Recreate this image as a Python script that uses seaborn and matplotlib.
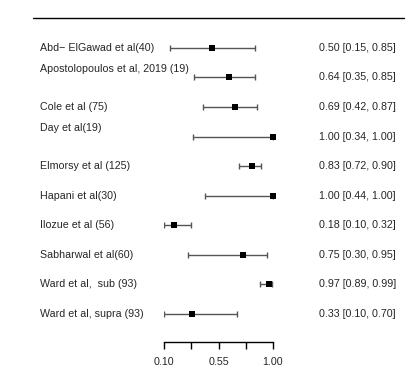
import numpy as np
import pandas as pd
import seaborn as sns
import matplotlib.pyplot as plt

# study labels and sensitivity estimates with 95% CI
studies = ["Abd\u2212 ElGawad et al(40)", "Apostolopoulos et al, 2019 (19)",
           "Cole et al (75)", "Day et al(19)", "Elmorsy et al (125)",
           "Hapani et al(30)", "Ilozue et al (56)", "Sabharwal et al(60)",
           "Ward et al,  sub (93)", "Ward et al, supra (93)"]
est = [0.50, 0.64, 0.69, 1.00, 0.83, 1.00, 0.18, 0.75, 0.97, 0.33]
lower = [0.15, 0.35, 0.42, 0.34, 0.72, 0.44, 0.10, 0.30, 0.89, 0.10]
upper = [0.85, 0.85, 0.87, 1.00, 0.90, 1.00, 0.32, 0.95, 0.99, 0.70]
xticks = [0.10, 0.325, 0.55, 0.775, 1.00]
xticklabels = ["0.10", "", "0.55", "", "1.00"]

df = pd.DataFrame({"study": studies, "est": est, "lo": lower, "hi": upper})
df["row"] = np.arange(len(df))

sns.set_style("white")
plt.rcParams["font.family"] = ["Liberation Sans", "DejaVu Sans"]
fs = 7.7

fig = plt.figure(figsize=(4.12, 3.71), dpi=100)
ax = fig.add_axes([164 / 412, 1 - 342 / 371, 109 / 412, (342 - 18.3) / 371])

# CI lines with end caps
ax.errorbar(df["est"], df["row"],
            xerr=[df["est"] - df["lo"], df["hi"] - df["est"]],
            fmt="none", ecolor="#555555", elinewidth=1, capsize=2.5, capthick=1)
sns.scatterplot(data=df, x="est", y="row", marker="s", color="black",
                s=22, linewidth=0, ax=ax, zorder=3)
ax.collections[-1].set_clip_on(False)

ax.set_xlim(0.10, 1.00)
ax.set_ylim(9.95, -1.0)
ax.set_xlabel("")
ax.set_ylabel("")
ax.set_yticks([])
ax.set_xticks(xticks)
ax.set_xticklabels(xticklabels, fontsize=fs)
ax.tick_params(axis="x", direction="out", length=5, width=1, color="black",
               pad=6, bottom=True)
for s in ["top", "left", "right"]:
    ax.spines[s].set_visible(False)
ax.spines["bottom"].set_color("black")
ax.spines["bottom"].set_linewidth(1)

# top rule across the figure
ax.axhline(-1.0, xmin=(33 - 164) / 109, xmax=(404 - 164) / 109,
           color="black", lw=1, clip_on=False)

# some labels sit a bit higher than their rows
label_shift = {1: -0.3, 3: -0.28}
trans_l = ax.get_yaxis_transform()
for i, r in df.iterrows():
    yl = r["row"] + label_shift.get(i, 0)
    ax.text(-(164 - 40) / 109, yl, r["study"], transform=trans_l,
            ha="left", va="center", fontsize=fs)
    ax.text((396 - 164) / 109, r["row"],
            f"{r['est']:.2f} [{r['lo']:.2f}, {r['hi']:.2f}]",
            transform=trans_l, ha="right", va="center", fontsize=fs)

fig.savefig("out.png", dpi=100)
